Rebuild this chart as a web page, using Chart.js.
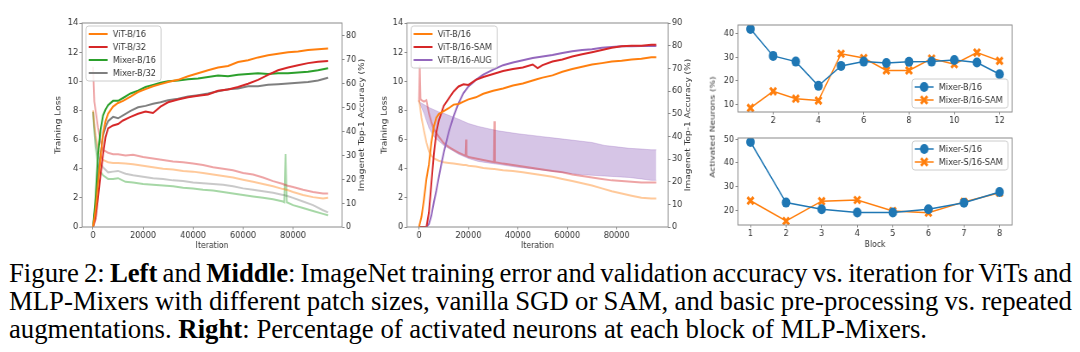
<!DOCTYPE html>
<html>
<head>
<meta charset="utf-8">
<script src="https://cdn.jsdelivr.net/npm/chart.js@4.4.1/dist/chart.umd.min.js"></script>
<style>
  html, body { margin: 0; padding: 0; background: #fff; }
  body { width: 1080px; height: 352px; position: relative; overflow: hidden; }
  .sq { position: absolute; transform: scaleX(0.86); transform-origin: 0 0; }
  .sq canvas { display: block; }
  #ylab { position: absolute; left: 712px; top: 127px; white-space: nowrap;
          font: 9px "DejaVu Sans"; color: #333;
          transform: translate(-50%, -50%) rotate(-90deg) scaleY(0.86); }
  #cap { position: absolute; left: 9px; top: 259px; font-family: "Liberation Serif", "Times New Roman", serif;
         font-size: 27.5px; line-height: 28px; color: #000; }
  .ln { white-space: nowrap; transform-origin: 0 0; }
</style>
</head>
<body>
<div class="sq" style="left:38px;top:0"><canvas id="cA" width="395" height="252"></canvas></div>
<div class="sq" style="left:372px;top:0"><canvas id="cB" width="385" height="252"></canvas></div>
<div class="sq" style="left:716px;top:0"><canvas id="cC" width="360" height="126"></canvas></div>
<div class="sq" style="left:716px;top:125px"><canvas id="cD" width="360" height="127"></canvas></div>
<div id="ylab">Activated Neurons (%)</div>
<div id="cap">
  <div class="ln" id="l1"><span id="l1s">Figure 2: <b>Left</b> and <b>Middle</b>: ImageNet training error and validation accuracy vs. iteration for ViTs and</span></div>
  <div class="ln" id="l2"><span id="l2s">MLP-Mixers with different patch sizes, vanilla SGD or SAM, and basic pre-processing vs. repeated</span></div>
  <div class="ln" id="l3"><span id="l3s">augmentations. <b>Right</b>: Percentage of activated neurons at each block of MLP-Mixers.</span></div>
</div>
<script>
// ---- left panel: accuracy (right axis, %) and training loss (left axis)
var L_ACC_ITER = [0,1000,2000,3000,4000,5000,6000,8000,10000,12000,15000,18000,21000,24000,27000,30000,34000,38000,42000,46000,50000,54000,58000,62000,66000,70000,74000,78000,82000,86000,90000,94000];
var vitB16Acc   = [0,7.3,18.2,29.1,39.5,44.3,47.4,50.4,51.9,52.8,54.6,56.5,57.7,58.9,59.8,60.7,61.6,63.1,64.4,65.6,66.8,67.4,69.1,69.8,71.0,71.9,72.5,73.2,73.5,74.1,74.4,74.7];
var vitB32Acc   = [0,3.6,12.1,21.9,30.4,37.6,41.3,42.5,43.1,44.6,46.1,47.4,48.3,47.7,50.4,52.2,53.4,54.3,54.9,55.5,57.0,57.6,58.6,60.0,61.6,63.7,65.6,66.8,67.7,68.6,69.2,69.5];
var mixerB16Acc = [0,12.1,30.4,40.7,46.7,49.2,51.0,52.8,52.8,54.0,55.9,57.1,58.6,59.5,60.4,61.0,61.3,61.9,62.2,62.8,63.4,63.1,63.7,64.0,64.4,64.0,64.4,64.4,64.7,65.0,65.6,66.5];
var mixerB32Acc = [0,9.1,21.2,30.4,38.2,41.9,44.3,46.1,45.5,46.7,48.6,50.1,50.7,51.6,52.2,53.1,53.7,54.6,55.2,55.9,56.8,57.7,58.0,58.9,58.9,59.5,59.8,60.1,60.4,60.7,61.3,62.5];

var L_LOSS_ITER = [0,500,1000,2000,3000,4000,6000,8000,10000,13000,16000,20000,24000,28000,32000,36000,40000,44000,48000,52000,56000,60000,64000,68000,72000,76000,76500,77000,77500,80000,84000,88000,92000,94000];
var vitB32Loss   = [11.0,8.6,8.0,6.8,5.9,5.3,5.1,5.0,5.0,4.9,4.95,4.8,4.7,4.6,4.5,4.45,4.35,4.25,4.1,4.0,3.9,3.7,3.6,3.4,3.15,2.95,2.9,2.9,2.85,2.75,2.55,2.4,2.3,2.3];
var vitB16Loss   = [8.0,7.0,6.3,5.4,4.9,4.6,4.45,4.4,4.4,4.35,4.3,4.2,4.1,4.0,3.95,3.85,3.8,3.7,3.6,3.5,3.4,3.25,3.1,2.95,2.8,2.6,2.6,2.55,2.55,2.4,2.2,2.05,1.95,2.0];
var mixerB32Loss = [7.9,6.9,6.0,4.9,4.4,4.1,3.75,3.8,3.85,3.65,3.55,3.45,3.35,3.3,3.2,3.15,3.05,3.0,2.95,2.9,2.8,2.65,2.55,2.45,2.35,2.2,2.2,2.15,2.15,2.0,1.75,1.5,1.15,1.0];
var mixerB16Loss = [7.9,6.5,5.5,4.3,3.8,3.55,3.3,3.3,3.35,3.1,3.05,2.95,2.9,2.85,2.8,2.7,2.65,2.55,2.5,2.4,2.3,2.2,2.1,2.0,1.9,1.75,1.7,5.0,1.7,1.5,1.3,1.1,0.9,0.8];

// ---- middle panel
var M_ACC_ITER = [0,1000,2000,3000,4000,5000,6000,7000,8000,9000,10000,12000,14000,16000,18000,20000,23000,26000,30000,34000,38000,42000,46000,48000,50000,54000,58000,62000,66000,70000,74000,78000,82000,86000,90000,94000,96000];
var vitAccM = [0,4.5,12.2,21.2,27.6,37.3,44.4,48.2,49.8,50.5,51.1,52.4,54.0,54.3,55.3,56.3,57.2,58.8,60.1,61.1,62.4,63.3,64.6,65.3,65.9,66.9,68.5,69.7,70.7,71.7,72.3,73.0,73.3,73.9,74.2,74.9,74.9];
var samAccM = [0,0,0,0,6.4,19.3,32.1,41.8,46.9,50.1,53.4,56.6,59.8,62.0,63.0,62.7,64.9,66.2,67.5,68.8,69.7,70.4,71.7,70.1,71.4,73.0,73.9,75.2,76.2,77.1,78.1,79.1,79.7,80.0,80.0,80.4,80.4];
var augAccM = [0,0,0,0,1.3,5.1,10.9,16.1,21.9,27.6,32.8,41.8,48.9,54.6,59.1,62.0,64.9,67.2,69.4,71.4,72.6,73.6,74.6,74.9,75.2,75.9,76.8,77.5,78.1,78.4,79.1,79.4,79.7,79.7,79.8,79.8,79.8];

var M_LOSS_ITER = [0,300,600,1000,2000,3000,4000,5000,6000,8000,10000,12000,14000,16000,18000,18800,19000,19200,20000,23000,26000,29000,30300,30500,30700,34000,38000,42000,46000,50000,54000,58000,62000,66000,70000,74000,78000,82000,86000,90000,94000,96000];
var vitLossM = [8.7,8.4,8.0,7.5,6.6,5.8,5.2,4.9,4.7,4.55,4.45,4.4,4.35,4.3,4.25,4.25,4.25,4.25,4.2,4.15,4.05,4.0,3.98,3.98,3.98,3.9,3.85,3.75,3.65,3.55,3.45,3.3,3.15,3.0,2.85,2.65,2.45,2.3,2.15,2.0,1.95,1.95];
var samLossM = [8.6,11.1,8.8,8.7,8.6,8.7,7.8,7.2,6.7,6.2,5.75,5.5,5.3,5.1,4.95,4.9,6.0,4.9,4.8,4.7,4.6,4.5,4.45,7.25,4.45,4.35,4.25,4.15,4.05,3.95,3.85,3.75,3.6,3.5,3.4,3.3,3.2,3.15,3.1,3.05,3.05,3.05];

// the AUG loss is a dense noisy band: upper and lower envelope
var M_BAND_ITER = [0,1000,2000,3000,4000,6000,8000,10000,13000,16000,20000,24000,28000,32000,36000,40000,45000,50000,55000,60000,65000,70000,75000,80000,85000,90000,94000,96000];
var augLossHi = [8.6,8.5,8.4,8.3,8.2,8.05,7.9,7.8,7.6,7.4,7.1,6.9,6.75,6.6,6.5,6.4,6.3,6.2,6.1,6.0,5.9,5.8,5.6,5.5,5.4,5.35,5.3,5.3];
var augLossLo = [8.6,8.2,7.8,7.3,6.8,6.2,5.9,5.6,5.3,5.0,4.7,4.5,4.4,4.3,4.2,4.1,4.0,3.9,3.8,3.7,3.6,3.55,3.5,3.45,3.4,3.3,3.2,3.2];

// ---- right panels: activated neurons per block
var B_BLOCKS = [1,2,3,4,5,6,7,8,9,10,11,12];
var mixerB16Act    = [41.8,30.5,28.1,17.9,26.3,28.1,27.5,28.0,28.1,28.8,27.7,22.8];
var mixerB16SamAct = [8.6,15.6,12.5,11.7,31.4,29.6,24.4,24.4,29.4,27.0,31.9,28.4];
var S_BLOCKS = [1,2,3,4,5,6,7,8];
var mixerS16Act    = [48.9,23.2,20.4,19.0,19.0,20.4,23.1,27.7];
var mixerS16SamAct = [24.0,15.4,23.8,24.3,19.6,18.9,23.5,27.4];

// tick labels
var ITER_TICKS = [0,20000,40000,60000,80000];
var LOSS_TICKS = [0,2,4,6,8,10,12,14];
var ACC_TICKS_L = [0,10,20,30,40,50,60,70,80];
var ACC_TICKS_M = [0,10,20,30,40,50,60,70,80,90];
var B_XTICKS = [2,4,6,8,10,12];
var B_YTICKS = [10,20,30,40];
var S_XTICKS = [1,2,3,4,5,6,7,8];
var S_YTICKS = [20,30,40,50];

var ORANGE = '#ff7f0e', RED = '#d62728', GREEN = '#2ca02c', GRAY = '#7f7f7f', PURPLE = '#9467bd', BLUE = '#1f77b4';
var INK = '#333';
var FRAME = '#8a8a8a';
var TICK_FONT = { family: 'DejaVu Sans', size: 9.5 };
var TITLE_FONT = { family: 'DejaVu Sans', size: 9 };

function pts(xs, ys) {
  return xs.map(function(x, i) { return { x: x, y: ys[i] }; });
}
function faint(hex, a) {
  var n = parseInt(hex.slice(1), 16);
  return 'rgba(' + (n >> 16) + ',' + ((n >> 8) & 255) + ',' + (n & 255) + ',' + a + ')';
}

function axis(o) {
  var horiz = o.position === 'bottom';
  return {
    type: 'linear', position: o.position, min: o.min, max: o.max,
    afterBuildTicks: function(s) { s.ticks = o.ticks.map(function(v) { return { value: v }; }); },
    afterFit: function(s) { if (horiz) s.height = o.size; else s.width = o.size; },
    ticks: { font: TICK_FONT, color: INK, padding: horiz ? 0.5 : 1.5, maxRotation: 0, autoSkip: false,
             callback: function(v) { return String(v); } },
    grid: { drawOnChartArea: false, tickLength: horiz ? 2.5 : 3, color: FRAME, tickColor: FRAME },
    border: { display: false },
    title: { display: !!o.title, text: o.title || '', font: TITLE_FONT, color: INK, padding: o.titlePad || 0 }
  };
}

// plot frame (matplotlib spines)
var framePlugin = {
  id: 'frame',
  afterDraw: function(chart) {
    var a = chart.chartArea, ctx = chart.ctx;
    ctx.save();
    ctx.strokeStyle = FRAME;
    ctx.lineWidth = 1;
    ctx.strokeRect(a.left, a.top, a.right - a.left, a.bottom - a.top);
    ctx.restore();
  }
};

// right-hand axis title, reading bottom to top like matplotlib twinx
var rightTitlePlugin = {
  id: 'rightTitle',
  afterDraw: function(chart, args, o) {
    if (!o || !o.text) return;
    var a = chart.chartArea, ctx = chart.ctx;
    ctx.save();
    ctx.translate(a.right + o.offset, (a.top + a.bottom) / 2);
    ctx.rotate(-Math.PI / 2);
    ctx.font = TITLE_FONT.size + 'px "DejaVu Sans"';
    ctx.fillStyle = INK;
    ctx.textAlign = 'center';
    ctx.textBaseline = 'middle';
    ctx.fillText(o.text, 0, 0);
    ctx.restore();
  }
};

function drawMarker(ctx, style, color, x, y, r) {
  ctx.save();
  if (style === 'circle') {
    ctx.fillStyle = color;
    ctx.beginPath(); ctx.arc(x, y, r, 0, Math.PI * 2); ctx.fill();
  } else if (style === 'crossRot') {
    ctx.strokeStyle = color; ctx.lineWidth = 3;
    var d = r * 0.75;
    ctx.beginPath();
    ctx.moveTo(x - d, y - d); ctx.lineTo(x + d, y + d);
    ctx.moveTo(x - d, y + d); ctx.lineTo(x + d, y - d);
    ctx.stroke();
  }
  ctx.restore();
}

// matplotlib-style legend inside the axes
var legendPlugin = {
  id: 'innerLegend',
  afterDraw: function(chart, args, o) {
    if (!o || !o.corner) return;
    var ctx = chart.ctx, a = chart.chartArea;
    var items = chart.data.datasets.filter(function(d) { return d.inLegend; });
    ctx.save();
    ctx.font = '9.5px "DejaVu Sans"';
    var tw = 0;
    items.forEach(function(d) { tw = Math.max(tw, ctx.measureText(d.label).width); });
    var rowH = 13, handle = 22, textX = 31, w = textX + tw + 6, h = 16 + rowH * (items.length - 1);
    var x = o.corner === 'ul' ? a.left + o.dx : a.right - o.dx - w;
    var y = o.corner === 'lr' ? a.bottom - o.dy - h : a.top + o.dy;
    ctx.fillStyle = 'rgba(255,255,255,0.85)';
    ctx.strokeStyle = '#cccccc';
    ctx.lineWidth = 1;
    ctx.beginPath();
    ctx.roundRect(x, y, w, h, 3);
    ctx.fill(); ctx.stroke();
    items.forEach(function(d, i) {
      var cy = y + 8 + rowH * i;
      ctx.strokeStyle = d.borderColor;
      ctx.lineWidth = d.borderWidth;
      ctx.beginPath(); ctx.moveTo(x + 3, cy); ctx.lineTo(x + 3 + handle, cy); ctx.stroke();
      if (d.pointRadius) drawMarker(ctx, d.pointStyle, d.borderColor, x + 3 + handle / 2, cy, d.pointRadius);
      ctx.fillStyle = INK;
      ctx.textBaseline = 'middle';
      ctx.textAlign = 'left';
      ctx.fillText(d.label, x + textX, cy + 0.5);
    });
    ctx.restore();
  }
};

function accLine(label, xs, ys, color) {
  return { label: label, data: pts(xs, ys), yAxisID: 'yr', borderColor: color, borderWidth: 2,
           pointRadius: 0, tension: 0, inLegend: true };
}
function lossLine(xs, ys, color) {
  return { label: '', data: pts(xs, ys), yAxisID: 'y', borderColor: faint(color, 0.42), borderWidth: 2,
           pointRadius: 0, tension: 0 };
}

function opts(extra) {
  var o = { responsive: false, animation: false, devicePixelRatio: 1 };
  for (var k in extra) o[k] = extra[k];
  return o;
}

// ---- left chart
new Chart(document.getElementById('cA'), {
  type: 'line',
  data: { datasets: [
    accLine('ViT-B/16', L_ACC_ITER, vitB16Acc, ORANGE),
    accLine('ViT-B/32', L_ACC_ITER, vitB32Acc, RED),
    accLine('Mixer-B/16', L_ACC_ITER, mixerB16Acc, GREEN),
    accLine('Mixer-B/32', L_ACC_ITER, mixerB32Acc, GRAY),
    lossLine(L_LOSS_ITER, vitB16Loss, ORANGE),
    lossLine(L_LOSS_ITER, vitB32Loss, RED),
    lossLine(L_LOSS_ITER, mixerB16Loss, GREEN),
    lossLine(L_LOSS_ITER, mixerB32Loss, GRAY)
  ] },
  options: opts({
    layout: { padding: { left: 18.2, top: 23, right: 0, bottom: 0 } },
    plugins: { legend: { display: false }, tooltip: { enabled: false },
               innerLegend: { corner: 'ul', dx: 4.7, dy: 3 },
               rightTitle: { text: 'Imagenet Top-1 Accuracy (%)', offset: 23.2 } },
    scales: {
      x: axis({ position: 'bottom', min: -4400, max: 99600, ticks: ITER_TICKS, size: 25, title: 'Iteration', titlePad: { top: 0, bottom: 1 } }),
      y: axis({ position: 'left', min: 0, max: 14, ticks: LOSS_TICKS, size: 33, title: 'Training Loss' }),
      yr: axis({ position: 'right', min: 0, max: 85.4, ticks: ACC_TICKS_L, size: 41.5 })
    }
  }),
  plugins: [framePlugin, rightTitlePlugin, legendPlugin]
});

// ---- middle chart
var band = { label: '', data: pts(M_BAND_ITER, augLossHi), yAxisID: 'y', borderColor: faint(PURPLE, 0.3), borderWidth: 1,
             pointRadius: 0, tension: 0, fill: '+1', backgroundColor: faint(PURPLE, 0.38) };
var bandLo = { label: '', data: pts(M_BAND_ITER, augLossLo), yAxisID: 'y', borderColor: faint(PURPLE, 0.3), borderWidth: 1,
               pointRadius: 0, tension: 0 };
new Chart(document.getElementById('cB'), {
  type: 'line',
  data: { datasets: [
    accLine('ViT-B/16', M_ACC_ITER, vitAccM, ORANGE),
    accLine('ViT-B/16-SAM', M_ACC_ITER, samAccM, RED),
    accLine('ViT-B/16-AUG', M_ACC_ITER, augAccM, PURPLE),
    lossLine(M_LOSS_ITER, vitLossM, ORANGE),
    lossLine(M_LOSS_ITER, samLossM, RED),
    band, bandLo
  ] },
  options: opts({
    layout: { padding: { left: 8.9, top: 23, right: 0, bottom: 0 } },
    plugins: { legend: { display: false }, tooltip: { enabled: false },
               innerLegend: { corner: 'ul', dx: 4.7, dy: 3 },
               rightTitle: { text: 'Imagenet Top-1 Accuracy (%)', offset: 23.2 } },
    scales: {
      x: axis({ position: 'bottom', min: -4860, max: 100770, ticks: ITER_TICKS, size: 25, title: 'Iteration', titlePad: { top: 0, bottom: 1 } }),
      y: axis({ position: 'left', min: 0, max: 14, ticks: LOSS_TICKS, size: 31.8, title: 'Training Loss' }),
      yr: axis({ position: 'right', min: 0, max: 90, ticks: ACC_TICKS_M, size: 40.8 })
    }
  }),
  plugins: [framePlugin, rightTitlePlugin, legendPlugin]
});

// ---- right charts
function blockLines(xs, a, b, la, lb) {
  return [
    { label: la, data: pts(xs, a), borderColor: BLUE, backgroundColor: BLUE, borderWidth: 1.5,
      pointStyle: 'circle', pointRadius: 5, pointBorderWidth: 0, pointBackgroundColor: BLUE, tension: 0, inLegend: true },
    { label: lb, data: pts(xs, b), borderColor: ORANGE, backgroundColor: ORANGE, borderWidth: 1.5,
      pointStyle: 'crossRot', pointRadius: 5, pointBorderWidth: 3, pointBorderColor: ORANGE, tension: 0, inLegend: true }
  ];
}

new Chart(document.getElementById('cC'), {
  type: 'line',
  data: { datasets: blockLines(B_BLOCKS, mixerB16Act, mixerB16SamAct, 'Mixer-B/16', 'Mixer-B/16-SAM') },
  options: opts({
    layout: { padding: { left: 0, top: 25, right: 15.8, bottom: 0 } },
    plugins: { legend: { display: false }, tooltip: { enabled: false },
               innerLegend: { corner: 'lr', dx: 4.7, dy: 4 } },
    scales: {
      x: axis({ position: 'bottom', min: 0.45, max: 12.55, ticks: B_XTICKS, size: 14 }),
      y: axis({ position: 'left', min: 6.9, max: 43.5, ticks: B_YTICKS, size: 25.6 })
    }
  }),
  plugins: [framePlugin, legendPlugin]
});

new Chart(document.getElementById('cD'), {
  type: 'line',
  data: { datasets: blockLines(S_BLOCKS, mixerS16Act, mixerS16SamAct, 'Mixer-S/16', 'Mixer-S/16-SAM') },
  options: opts({
    layout: { padding: { left: 0, top: 13, right: 15.8, bottom: 0 } },
    plugins: { legend: { display: false }, tooltip: { enabled: false },
               innerLegend: { corner: 'ur', dx: 4.7, dy: 3 } },
    scales: {
      x: axis({ position: 'bottom', min: 0.65, max: 8.35, ticks: S_XTICKS, size: 27, title: 'Block', titlePad: { top: 0, bottom: 2 } }),
      y: axis({ position: 'left', min: 13.7, max: 50.6, ticks: S_YTICKS, size: 25.6 })
    }
  }),
  plugins: [framePlugin, legendPlugin]
});

// ---- caption: condensed Times; lines 1-2 stretched or shrunk at the spaces to the full width
(function() {
  var s = 918 / document.getElementById('l3s').getBoundingClientRect().width;
  var full = 1063 / s;
  ['l1', 'l2'].forEach(function(id) {
    var sp = document.getElementById(id + 's');
    var w = sp.getBoundingClientRect().width;
    var gaps = sp.textContent.split(' ').length - 1;
    sp.style.wordSpacing = ((full - w) / gaps) + 'px';
  });
  ['l1', 'l2', 'l3'].forEach(function(id) {
    document.getElementById(id).style.transform = 'scaleX(' + s + ')';
  });
})();
</script>
</body>
</html>
